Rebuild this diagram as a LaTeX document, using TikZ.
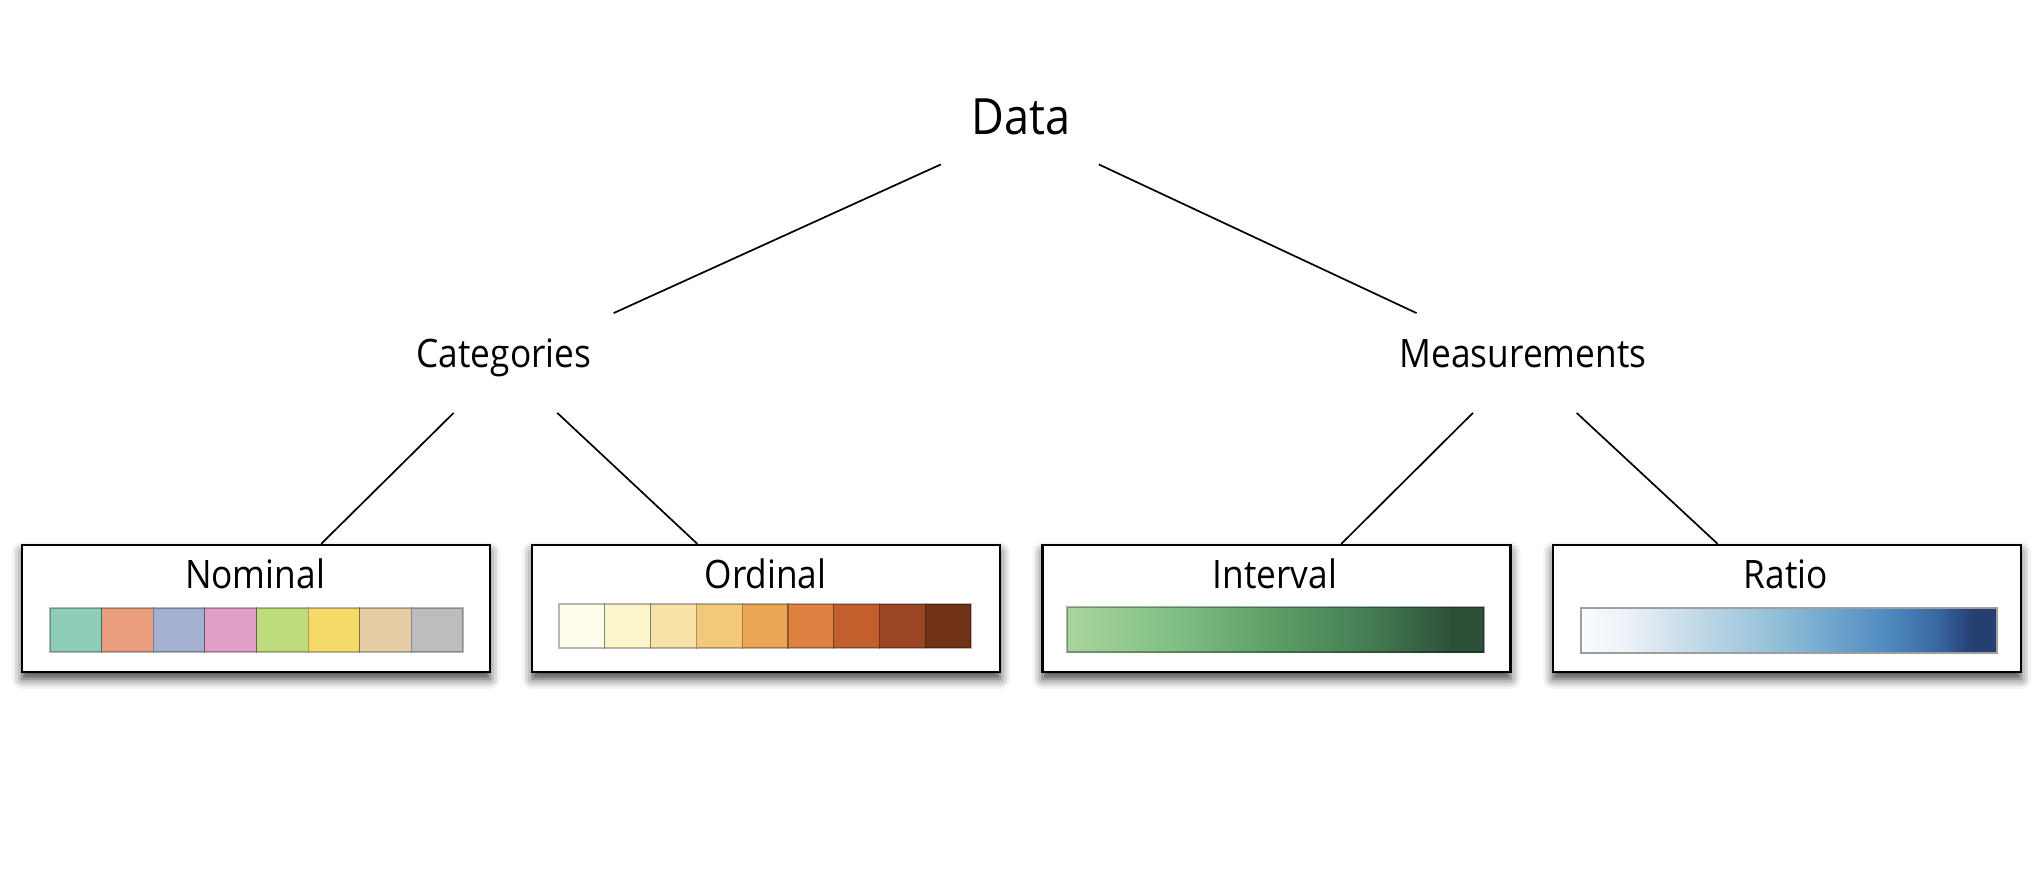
\documentclass[tikz,border=0pt]{standalone}
\usepackage{fontspec}
\setmainfont[FakeStretch=0.9]{Open Sans}
\usetikzlibrary{shadows.blur}

% qualitative palette
\definecolor{qa}{RGB}{142,205,183}
\definecolor{qb}{RGB}{233,158,126}
\definecolor{qc}{RGB}{163,176,210}
\definecolor{qd}{RGB}{224,158,200}
\definecolor{qe}{RGB}{190,220,124}
\definecolor{qf}{RGB}{245,218,106}
\definecolor{qg}{RGB}{228,205,165}
\definecolor{qh}{RGB}{189,189,189}
% sequential yellow-orange-brown palette
\definecolor{oa}{RGB}{255,253,235}
\definecolor{ob}{RGB}{252,245,203}
\definecolor{oc}{RGB}{248,226,168}
\definecolor{od}{RGB}{242,201,120}
\definecolor{oe}{RGB}{234,166,84}
\definecolor{of}{RGB}{222,128,64}
\definecolor{og}{RGB}{195,95,45}
\definecolor{oh}{RGB}{156,69,34}
\definecolor{oi}{RGB}{113,51,23}
% continuous green ramp
\definecolor{ga}{RGB}{168,213,155}
\definecolor{gb}{RGB}{130,192,133}
\definecolor{gc}{RGB}{92,158,102}
\definecolor{gd}{RGB}{66,120,80}
\definecolor{ge}{RGB}{45,80,57}
% continuous blue ramp
\definecolor{ba}{RGB}{248,251,254}
\definecolor{bb}{RGB}{238,243,249}
\definecolor{bc}{RGB}{214,228,239}
\definecolor{bd}{RGB}{178,208,227}
\definecolor{be}{RGB}{148,193,216}
\definecolor{bf}{RGB}{112,166,205}
\definecolor{bg}{RGB}{78,138,191}
\definecolor{bh}{RGB}{57,102,160}
\definecolor{bi}{RGB}{38,63,114}

\pgfdeclarehorizontalshading{greenramp}{100bp}{%
  color(0bp)=(ga); color(25bp)=(ga); color(37.5bp)=(gb);
  color(50bp)=(gc); color(62.5bp)=(gd); color(71bp)=(ge); color(100bp)=(ge)}
\pgfdeclarehorizontalshading{blueramp}{100bp}{%
  color(0bp)=(ba); color(25bp)=(ba); color(30bp)=(bb); color(35bp)=(bc);
  color(42bp)=(bd); color(48bp)=(be); color(55bp)=(bf); color(62bp)=(bg);
  color(68bp)=(bh); color(72bp)=(bi); color(100bp)=(bi)}

\begin{document}
\begin{tikzpicture}[x=0.5pt,y=-0.5pt,
  toplabel/.style={font=\fontsize{25}{30}\selectfont, inner sep=0pt,
    text height=12pt, text depth=5pt, minimum height=36pt, minimum width=100pt},
  midlabel/.style={font=\fontsize{19.6}{24}\selectfont, inner sep=0pt,
    text height=10pt, text depth=5pt, minimum height=49.5pt, minimum width=120pt},
  scalebox/.style={draw, line width=1.15pt, fill=white, inner sep=0pt,
    minimum width=234pt, minimum height=63.5pt,
    blur shadow={shadow xshift=0pt, shadow yshift=-3.5pt,
      shadow blur radius=5pt, shadow opacity=75}},
  boxlabel/.style={font=\fontsize{19.6}{24}\selectfont, anchor=base, inner sep=0pt},
  cell/.style={draw=black, draw opacity=0.28, line width=0.6pt},
  link/.style={line width=0.85pt, black}]

\useasboundingbox (0,0) rectangle (2036,882);

% hierarchy labels
\node[toplabel] (data) at (1021,128) {Data};
\node[midlabel] (cat)  at (504,363)  {Categories};
\node[midlabel] (meas) at (1523,363) {Measurements};

% scale boxes
\node[scalebox] (nom) at (256,608.5)    {};
\node[scalebox] (ord) at (766.25,608.5) {};
\node[scalebox] (int) at (1276.5,608.5) {};
\node[scalebox] (rat) at (1787,608.5)   {};

% connectors
\draw[link] (data) -- (cat);
\draw[link] (data) -- (meas);
\draw[link] (cat)  -- (nom);
\draw[link] (cat)  -- (ord);
\draw[link] (meas) -- (int);
\draw[link] (meas) -- (rat);

% box titles
\node[boxlabel] (nomlabel) at (255,588)    {Nominal};
\node[boxlabel] (ordlabel) at (765.5,588)  {Ordinal};
\node[boxlabel] (intlabel) at (1275,588)   {Interval};
\node[boxlabel] (ratlabel) at (1786,588)   {Ratio};

% nominal swatches
\foreach \c [count=\i from 0] in {qa,qb,qc,qd,qe,qf,qg,qh}
  \draw[cell, fill=\c] ({50+\i*51.625},608) rectangle ++(51.625,44);

% ordinal swatches
\foreach \c [count=\i from 0] in {oa,ob,oc,od,oe,of,og,oh,oi}
  \draw[cell, fill=\c] ({559+\i*45.78},604) rectangle ++(45.78,44);

% interval ramp
\path[shading=greenramp, draw=black, draw opacity=0.3, line width=0.6pt]
  (1067,607) rectangle (1484,652);

% ratio ramp
\path[shading=blueramp, draw=black!38, line width=0.8pt]
  (1581,608) rectangle (1997,653);

\end{tikzpicture}
\end{document}
